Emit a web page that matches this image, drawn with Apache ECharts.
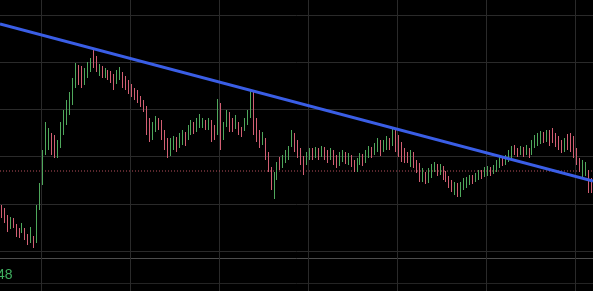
<!DOCTYPE html>
<html><head><meta charset="utf-8">
<script src="https://cdn.jsdelivr.net/npm/echarts@6/dist/echarts.min.js"></script>
<style>html,body{margin:0;padding:0;background:#000;}#c{width:593px;height:291px;}</style>
</head><body><div id="c"></div>
<script>
// OHLC values (arbitrary price units)
const opens = [
93,90,83,73,80,74,70,68,71,64,
59,63,60,93,118,150,153,165,160,145,
155,170,178,188,198,215,232,232,218,225,
230,248,240,228,233,224,229,227,224,218,
223,226,222,218,214,210,207,202,198,192,
175,162,170,180,175,165,160,147,152,161,
154,157,166,162,168,176,170,175,174,179,
172,178,172,168,194,163,176,186,180,173,
176,172,171,177,185,207,178,167,157,160,
145,130,105,123,141,134,140,143,156,164,
157,150,142,137,142,150,144,151,145,151,
148,142,148,143,136,140,147,137,143,139,
130,138,144,139,144,151,147,150,158,150,
152,160,157,168,163,155,150,147,135,146,
138,135,120,126,119,124,130,135,127,132,
127,122,118,107,115,105,112,114,117,124,
119,122,129,125,126,132,128,130,134,142,
137,140,144,153,151,147,151,147,151,147,
154,156,158,167,160,168,170,165,162,159,
150,164,164,160,150,140,125,126,128,120];
const closes = [
85,80,71,81,74,65,64,75,62,57,
70,54,92,114,147,174,168,150,145,155,
175,187,196,205,220,234,220,215,228,236,
240,237,232,233,225,230,222,220,214,228,
231,215,212,210,205,202,200,195,190,168,
160,175,182,172,162,152,145,158,161,150,
164,167,157,172,177,169,179,184,180,172,
180,162,163,198,155,175,187,171,170,182,
167,165,179,187,206,170,162,155,165,143,
130,113,125,135,133,142,147,152,167,151,
145,138,130,145,150,143,151,143,152,142,
140,150,138,135,145,148,138,145,136,130,
140,145,137,148,152,144,155,160,147,158,
162,152,170,150,145,140,140,139,148,134,
129,120,130,118,130,134,136,126,134,122,
120,114,110,116,105,116,120,121,123,118,
125,128,123,131,132,126,133,138,143,136,
143,148,152,147,145,152,145,153,144,158,
163,165,167,159,168,156,160,155,152,149,
160,153,150,145,137,130,137,136,110,110];
const lows = [
82,77,68,71,72,63,62,67,60,55,
57,52,57,90,115,145,150,145,142,142,
152,165,175,185,195,212,215,212,215,222,
228,232,228,224,222,222,220,217,210,216,
220,212,210,206,203,200,197,193,188,165,
158,160,168,170,160,150,142,144,150,148,
152,155,154,160,165,166,168,172,172,170,
170,158,160,165,150,160,173,168,168,171,
165,163,169,175,182,165,158,152,155,140,
128,110,101,120,130,132,137,140,153,148,
142,135,125,135,140,140,142,140,143,140,
137,140,135,132,134,138,136,135,133,128,
128,135,134,137,142,142,145,148,144,148,
150,150,154,148,143,138,137,137,133,132,
127,118,118,116,117,122,128,124,125,120,
118,112,108,105,103,103,110,112,115,116,
118,120,121,123,124,124,126,128,132,134,
135,138,142,145,143,145,143,145,142,145,
152,154,156,157,158,154,157,153,150,147,
148,150,148,142,135,128,122,124,107,107];
const highs = [
95,92,85,83,82,76,72,77,72,66,
73,64,95,117,150,178,172,167,165,160,
178,190,200,208,222,237,235,234,232,238,
242,251,244,236,234,232,230,229,226,230,
233,228,224,220,216,212,210,204,200,194,
182,178,184,182,180,170,162,162,164,163,
167,170,168,175,180,178,182,186,182,180,
182,180,175,201,197,178,190,188,182,185,
178,173,182,190,209,210,182,170,168,162,
148,133,128,138,143,145,150,154,170,167,
160,152,144,148,152,152,153,152,154,153,
150,152,150,145,148,150,148,147,145,140,
142,147,146,150,154,153,157,162,160,160,
164,162,172,170,165,158,152,148,150,148,
140,137,132,128,132,136,138,136,136,134,
129,124,120,118,117,118,122,123,125,125,
127,130,130,133,134,133,135,140,145,143,
145,150,154,155,152,154,153,155,152,160,
165,167,169,168,170,170,172,167,164,160,
162,166,167,164,152,142,140,138,130,122];

// trend line (left edge -> right edge) and reference level
const trendLine = [[0, 276], [1, 119]];
const refLevel = 129;
const cornerText = '48';

const categories = opens.map((_, i) => String(i));
const candleData = opens.map((o, i) => [o, closes[i], lows[i], highs[i]]);

const chart = echarts.init(document.getElementById('c'), null, {renderer: 'canvas'});
const hiddenAxis = {axisLine:{show:false}, axisTick:{show:false}, axisLabel:{show:false}};
chart.setOption({
  animation: false,
  backgroundColor: '#000000',
  grid: [
    {left: 0, right: 0, top: 0, bottom: 0},
    {left: 0, right: 0, top: 15, bottom: 40},
    {left: 0, right: 0, top: 258, bottom: 8}
  ],
  xAxis: [
    Object.assign({type: 'category', gridIndex: 0, data: categories, boundaryGap: true,
      splitLine: {show: true, interval: (i) => (i - 14) % 30 === 0, lineStyle: {color: '#2a2a2a', width: 1}}}, hiddenAxis),
    {type: 'value', gridIndex: 0, min: 0, max: 1, show: false},
    {type: 'value', gridIndex: 1, min: 0, max: 1, show: false},
    {type: 'value', gridIndex: 2, min: 0, max: 1, show: false}
  ],
  yAxis: [
    {type: 'value', gridIndex: 0, min: 9, max: 300, show: false},
    Object.assign({type: 'value', gridIndex: 1, min: 0, max: 5, interval: 1,
      splitLine: {show: true, lineStyle: {color: '#2a2a2a', width: 1}}}, hiddenAxis),
    Object.assign({type: 'value', gridIndex: 2, min: 0, max: 1, interval: 1,
      splitLine: {show: true, lineStyle: {color: ['#242424', '#4c4c4c'], width: 1}}}, hiddenAxis)
  ],
  series: [
    {
      type: 'line', xAxisIndex: 1, yAxisIndex: 0, z: 1,
      data: [[0, refLevel], [1, refLevel]], symbol: 'none', silent: true,
      lineStyle: {color: '#b8505c', width: 1, type: [1, 2]}
    },
    {
      type: 'candlestick', xAxisIndex: 0, yAxisIndex: 0, z: 2,
      data: candleData, barWidth: 1,
      itemStyle: {color: '#4fa85c', color0: '#d25f73', borderColor: '#4fa85c', borderColor0: '#d25f73', borderWidth: 1}
    },
    {
      type: 'line', xAxisIndex: 1, yAxisIndex: 0, z: 3,
      data: trendLine, symbol: 'none', silent: true,
      lineStyle: {color: '#3a5ee6', width: 3}
    }
  ],
  graphic: [{
    type: 'text', left: -3, top: 268,
    style: {text: cornerText, fill: '#3fae5f', font: '14px "Liberation Sans", Arial, sans-serif'}
  }]
});
</script>
</body></html>
